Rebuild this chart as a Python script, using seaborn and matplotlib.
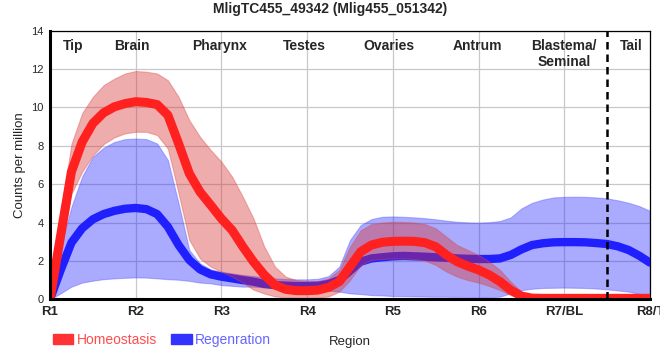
import matplotlib
matplotlib.use("Agg")
import matplotlib.pyplot as plt
import numpy as np
import seaborn as sns
from matplotlib.patches import Patch

# sample positions along the body axis: R1 = 0 ... R8/T = 7, read every 1/8 region
pos = np.arange(0, 7.001, 0.125)

homeo_mean = [0, 3.35, 6.65, 8.2, 9.17, 9.72, 10.03, 10.2, 10.3, 10.26, 10.15, 9.6, 8.12, 6.56,
              5.6, 4.91, 4.2, 3.6, 2.74, 1.95, 1.27, 0.74, 0.52, 0.45, 0.45, 0.48, 0.62, 0.92,
              1.7, 2.48, 2.83, 2.97, 3.02, 3.03, 3.02, 2.95, 2.74, 2.31, 1.96, 1.73, 1.53, 1.27,
              0.92, 0.48, 0.17, 0.06, 0.05, 0.05, 0.05, 0.05, 0.05, 0.05, 0.05, 0.05, 0.05, 0.05, 0.05]
homeo_hi = [0, 4.48, 8.1, 9.7, 10.55, 11.16, 11.5, 11.77, 11.9, 11.86, 11.77, 11.42, 10.55, 9.34,
            8.47, 7.78, 7.17, 6.39, 5.34, 4.2, 2.74, 1.7, 1.18, 1.0, 0.95, 0.95, 1.09, 1.53,
            2.74, 3.6, 3.92, 4.0, 4.04, 4.03, 4.0, 3.92, 3.7, 3.26, 2.83, 2.57, 2.31, 1.96,
            1.53, 0.92, 0.4, 0.17, 0.1, 0.08, 0.08, 0.08, 0.08, 0.08, 0.08, 0.08, 0.08, 0.08, 0.08]
homeo_lo = [0, 2.5, 5.5, 6.65, 7.5, 8.09, 8.44, 8.65, 8.73, 8.73, 8.56, 7.86, 5.52, 3.09,
            2.13, 1.7, 1.44, 1.18, 0.87, 0.5, 0.3, 0.15, 0.1, 0.08, 0.08, 0.08, 0.15, 0.4,
            1.0, 1.79, 2.05, 2.1, 2.13, 2.13, 2.1, 2.01, 1.79, 1.44, 1.18, 1.0, 0.87, 0.69,
            0.48, 0.22, 0.03, 0, 0, 0, 0, 0, 0, 0, 0, 0, 0, 0, 0]

regen_mean = [0, 1.53, 2.95, 3.7, 4.17, 4.44, 4.61, 4.72, 4.76, 4.7, 4.44, 3.78, 2.83, 2.05,
              1.56, 1.3, 1.18, 1.09, 1.0, 0.92, 0.8, 0.74, 0.71, 0.69, 0.69, 0.71, 0.8, 1.0,
              1.49, 1.96, 2.13, 2.19, 2.24, 2.26, 2.24, 2.22, 2.19, 2.17, 2.13, 2.11, 2.1, 2.1,
              2.13, 2.31, 2.6, 2.83, 2.92, 2.97, 2.98, 2.98, 2.97, 2.93, 2.88, 2.76, 2.57, 2.27, 1.91]
regen_hi = [0, 2.74, 4.82, 6.4, 7.43, 7.9, 8.2, 8.35, 8.38, 8.35, 8.12, 7.26, 5.0, 2.57,
            1.87, 1.56, 1.44, 1.35, 1.27, 1.21, 1.15, 1.09, 1.06, 1.04, 1.04, 1.07, 1.21, 1.7,
            3.09, 3.87, 4.18, 4.3, 4.32, 4.3, 4.27, 4.23, 4.17, 4.1, 4.04, 4.01, 4.0, 4.02,
            4.08, 4.27, 4.74, 5.03, 5.2, 5.31, 5.34, 5.35, 5.34, 5.31, 5.26, 5.16, 5.03, 4.86, 4.61]
regen_lo = [0, 0.31, 0.66, 0.87, 0.97, 1.05, 1.09, 1.12, 1.14, 1.13, 1.09, 1.05, 1.02, 0.96,
            0.87, 0.83, 0.74, 0.7, 0.66, 0.66, 0.62, 0.6, 0.57, 0.55, 0.52, 0.5, 0.45, 0.4,
            0.31, 0.27, 0.22, 0.2, 0.17, 0.16, 0.15, 0.14, 0.13, 0.13, 0.12, 0.12, 0.1, 0.1,
            0.14, 0.31, 0.48, 0.55, 0.59, 0.6, 0.61, 0.6, 0.59, 0.56, 0.52, 0.46, 0.4, 0.28, 0.1]

tick_labels = ["R1", "R2", "R3", "R4", "R5", "R6", "R7/BL", "R8/T"]
region_names = ["Tip", "Brain", "Pharynx", "Testes", "Ovaries", "Antrum", "Blastema/\nSeminal", "Tail"]
region_name_x = [0.27, 0.96, 1.98, 2.97, 3.95, 4.99, 6.0, 6.78]
tail_boundary = 6.5

for s in [homeo_mean, homeo_hi, homeo_lo, regen_mean, regen_hi, regen_lo]:
    assert len(s) == len(pos), len(s)

sns.set_style("white")
plt.rcParams["font.family"] = ["Liberation Sans", "DejaVu Sans"]

fig = plt.figure(figsize=(6.6, 3.6), dpi=100)
ax = fig.add_axes([50 / 660, 1 - 299.3 / 360, 600 / 660, 268.6 / 360])

red = "#ff2020"
blue = "#2020ff"

# Regeneration band + line
ax.fill_between(pos, regen_lo, regen_hi, color=blue, alpha=0.38, lw=0.8,
                edgecolor=(0.3, 0.3, 1.0, 0.6), zorder=2)
sns.lineplot(x=pos, y=regen_mean, ax=ax, color=blue, lw=6, sort=False, zorder=3,
             solid_joinstyle="round")

# Homeostasis band + line
ax.fill_between(pos, homeo_lo, homeo_hi, color="#d93030", alpha=0.4, lw=0.8,
                edgecolor=(0.85, 0.3, 0.3, 0.6), zorder=4)
sns.lineplot(x=pos, y=homeo_mean, ax=ax, color=red, lw=6.5, sort=False, zorder=5,
             solid_joinstyle="round")

ax.axvline(tail_boundary, color="black", lw=1.8, ls=(0, (3, 2)), zorder=6)

ax.set_xlim(0, 7)
ax.set_ylim(0, 14)
ax.set_xticks(range(len(tick_labels)))
ax.set_xticklabels(tick_labels, fontweight="bold", fontsize=9.5)
ax.set_yticks(range(0, 15, 2))
ax.tick_params(axis="y", labelsize=8, length=3, width=1, color="black", pad=1.5, direction="out")
ax.tick_params(axis="x", length=3, width=1, color="black", pad=2, direction="out")
ax.grid(True, color="#c8c8c8", lw=0.9, zorder=0)
ax.set_axisbelow(True)

for side in ["left", "bottom"]:
    ax.spines[side].set_linewidth(2.2)
    ax.spines[side].set_color("black")
    ax.spines[side].set_zorder(7)
for side in ["top", "right"]:
    ax.spines[side].set_linewidth(0.9)
    ax.spines[side].set_color("black")

for name, x in zip(region_names, region_name_x):
    ax.text(x, 13.55, name, ha="center", va="top", fontsize=10, fontweight="bold",
            linespacing=1.15, zorder=8)

ax.set_ylabel("Counts per million", fontsize=9.5, labelpad=4)
ax.set_xlabel("")

fig.text(330 / 660, 1 - 9 / 360, "MligTC455_49342 (Mlig455_051342)", ha="center", va="center",
         fontsize=10, fontweight="bold")
fig.text(350 / 660, 1 - 342 / 360, "Region", ha="center", va="center", fontsize=9.5)

handles = [Patch(color="#ff3333"), Patch(color="#3333ff")]
fig.legend(handles, ["Homeostasis", "Regenration"], loc="center left",
           bbox_to_anchor=(40 / 660, 1 - 340 / 360), ncol=2, frameon=False,
           handlelength=1.5, handleheight=0.8, handletextpad=0.25, columnspacing=1.0,
           labelcolor=["#ff4d4d", "#6666ff"], fontsize=10)

fig.savefig("out.png", dpi=100)
